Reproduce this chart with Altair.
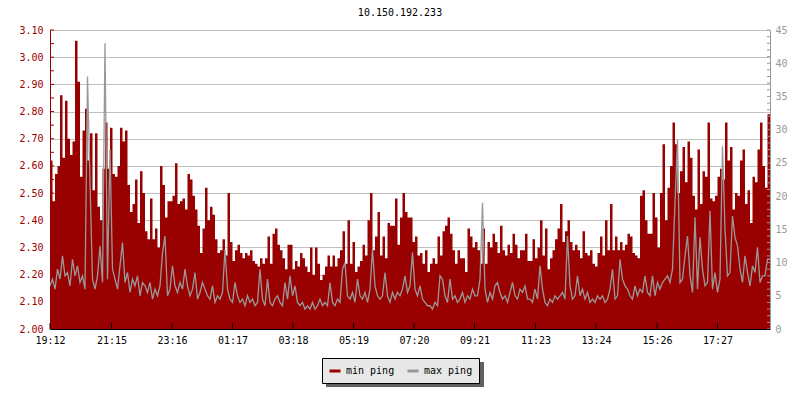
import altair as alt
import pandas as pd

FONT = "DejaVu Sans Mono"
RED = "#990000"
GREY = "#999999"

# min ping (ms, left axis), one value per 5 minutes, in 4-hour blocks
MIN_PING_1 = [2.62, 2.47, 2.57, 2.60, 2.86, 2.63, 2.84, 2.70, 2.64, 2.69,
              3.06, 2.91, 2.56, 2.73, 2.81, 2.62, 2.72, 2.51, 2.72, 2.45,
              2.40, 2.59, 2.76, 2.59, 2.74, 2.57, 2.56, 2.60, 2.74, 2.69,
              2.73, 2.53, 2.43, 2.46, 2.55, 2.39, 2.58, 2.50, 2.36, 2.33,
              2.48, 2.33, 2.37, 2.30, 2.60, 2.53, 2.41, 2.47]
MIN_PING_2 = [2.47, 2.49, 2.61, 2.46, 2.47, 2.48, 2.44, 2.57, 2.55, 2.49,
              2.44, 2.38, 2.28, 2.37, 2.52, 2.40, 2.45, 2.42, 2.33, 2.28,
              2.29, 2.33, 2.27, 2.50, 2.32, 2.25, 2.29, 2.31, 2.28, 2.26,
              2.28, 2.27, 2.29, 2.25, 2.24, 2.23, 2.26, 2.24, 2.26, 2.34,
              2.24, 2.35, 2.37, 2.31, 2.29, 2.26, 2.22, 2.31]
MIN_PING_3 = [2.31, 2.22, 2.25, 2.23, 2.28, 2.26, 2.23, 2.21, 2.30, 2.20,
              2.30, 2.24, 2.18, 2.20, 2.23, 2.27, 2.23, 2.27, 2.23, 2.26,
              2.29, 2.36, 2.24, 2.40, 2.24, 2.32, 2.21, 2.23, 2.25, 2.31,
              2.27, 2.40, 2.50, 2.29, 2.34, 2.43, 2.27, 2.34, 2.26, 2.39,
              2.38, 2.38, 2.48, 2.31, 2.41, 2.50, 2.43, 2.41]
MIN_PING_4 = [2.41, 2.32, 2.34, 2.27, 2.28, 2.24, 2.29, 2.21, 2.24, 2.26,
              2.24, 2.34, 2.27, 2.36, 2.38, 2.41, 2.35, 2.29, 2.24, 2.29,
              2.26, 2.26, 2.21, 2.37, 2.34, 2.30, 2.32, 2.29, 2.24, 2.37,
              2.24, 2.32, 2.30, 2.35, 2.32, 2.28, 2.38, 2.29, 2.27, 2.31,
              2.28, 2.35, 2.31, 2.26, 2.29, 2.29, 2.35, 2.25]
MIN_PING_5 = [2.25, 2.33, 2.26, 2.30, 2.40, 2.27, 2.37, 2.22, 2.26, 2.29,
              2.33, 2.37, 2.46, 2.32, 2.36, 2.40, 2.32, 2.29, 2.31, 2.29,
              2.26, 2.36, 2.28, 2.27, 2.29, 2.24, 2.23, 2.28, 2.34, 2.27,
              2.40, 2.29, 2.46, 2.29, 2.34, 2.29, 2.32, 2.29, 2.31, 2.35,
              2.34, 2.28, 2.27, 2.26, 2.49, 2.51, 2.40, 2.35]
MIN_PING_6 = [2.35, 2.50, 2.41, 2.30, 2.50, 2.68, 2.40, 2.52, 2.60, 2.76,
              2.68, 2.50, 2.58, 2.67, 2.54, 2.69, 2.63, 2.49, 2.44, 2.66,
              2.46, 2.58, 2.56, 2.76, 2.48, 2.47, 2.49, 2.56, 2.59, 2.55,
              2.76, 2.62, 2.67, 2.44, 2.50, 2.49, 2.62, 2.66, 2.46, 2.51,
              2.39, 2.56, 2.54, 2.66, 2.76, 2.60, 2.52, 2.79]

# max ping (ms, right axis)
MAX_PING_1 = [6.5, 7.5, 6.0, 9.0, 7.5, 11.0, 8.0, 8.5, 6.5, 10.5,
              8.0, 9.5, 7.0, 8.0, 6.0, 38.0, 22.0, 7.5, 6.0, 8.0,
              12.5, 7.0, 43.0, 7.5, 27.0, 9.0, 7.5, 6.0, 9.5, 13.0,
              7.0, 8.5, 5.5, 7.5, 6.5, 8.0, 5.0, 7.0, 6.5, 5.5,
              7.0, 4.5, 6.0, 5.0, 6.5, 11.5, 14.0, 5.0]
MAX_PING_2 = [6.0, 9.5, 6.5, 5.5, 7.0, 6.0, 9.0, 6.5, 5.0, 6.0,
              8.5, 4.5, 5.5, 7.0, 6.0, 5.0, 4.5, 6.5, 4.0, 5.0,
              4.5, 5.5, 12.0, 6.0, 4.5, 4.0, 7.0, 5.0, 4.0, 4.5,
              3.5, 5.0, 4.0, 4.5, 3.5, 4.0, 9.0, 4.5, 3.5, 7.5,
              4.0, 3.5, 4.5, 5.0, 4.0, 3.5, 7.0, 4.5]
MAX_PING_3 = [8.0, 5.0, 6.5, 4.0, 3.5, 4.0, 3.0, 3.5, 3.0, 4.0,
              3.0, 3.5, 4.5, 3.5, 4.0, 3.5, 7.0, 4.0, 3.5, 4.5,
              4.0, 9.0, 10.0, 5.0, 4.5, 5.5, 4.0, 7.5, 5.0, 4.5,
              5.5, 4.0, 6.0, 12.0, 6.5, 5.0, 4.5, 5.0, 8.5, 5.0,
              4.0, 5.5, 4.5, 5.5, 5.0, 6.0, 8.0, 5.5]
MAX_PING_4 = [6.5, 11.5, 6.0, 5.0, 6.5, 4.5, 4.0, 3.5, 3.5, 3.0,
              4.0, 3.5, 8.0, 7.5, 5.0, 4.0, 7.5, 4.5, 5.0, 4.0,
              4.5, 5.5, 4.0, 5.0, 4.5, 6.0, 5.0, 5.0, 7.5, 19.0,
              6.0, 4.0, 5.5, 4.5, 6.5, 7.0, 5.5, 4.5, 5.0, 4.0,
              5.5, 7.0, 5.0, 4.5, 6.0, 5.5, 6.5, 4.5]
MAX_PING_5 = [4.5, 4.0, 6.0, 4.5, 9.5, 6.0, 4.0, 3.5, 4.5, 4.0,
              5.0, 4.5, 5.0, 5.5, 4.5, 14.0, 6.5, 4.5, 5.0, 8.0,
              5.0, 6.0, 4.5, 5.5, 4.0, 4.5, 4.0, 5.0, 4.5, 5.0,
              4.0, 4.5, 6.0, 9.0, 4.5, 5.0, 10.5, 7.5, 6.5, 6.0,
              5.0, 4.5, 6.5, 5.0, 6.0, 5.5, 8.0, 5.5]
MAX_PING_6 = [5.0, 8.0, 5.0, 7.0, 6.0, 7.0, 7.5, 8.0, 7.0, 9.0,
              19.0, 28.5, 7.0, 7.5, 11.0, 14.0, 8.0, 5.5, 16.8, 6.0,
              13.8, 9.0, 6.5, 7.0, 17.8, 6.0, 8.5, 5.5, 7.5, 27.5,
              15.0, 8.0, 8.5, 17.0, 13.8, 12.5, 9.0, 7.0, 11.0, 8.5,
              6.5, 9.5, 8.5, 12.3, 7.0, 8.0, 8.0, 10.5]

MIN_PING = MIN_PING_1 + MIN_PING_2 + MIN_PING_3 + MIN_PING_4 + MIN_PING_5 + MIN_PING_6
MAX_PING = MAX_PING_1 + MAX_PING_2 + MAX_PING_3 + MAX_PING_4 + MAX_PING_5 + MAX_PING_6

STEP_MIN = 5
X_TICK_LABELS = ["19:12", "21:15", "23:16", "01:17", "03:18", "05:19",
                 "07:20", "09:21", "11:23", "13:24", "15:26", "17:27"]
X_TICK_MINUTES = [0, 123, 244, 365, 486, 607, 728, 849, 971, 1092, 1214, 1335]
LEFT_LABELS = [2.0, 2.1, 2.2, 2.3, 2.4, 2.5, 2.6, 2.7, 2.8, 2.9, 3.0, 3.1]
LEFT_MINOR = [round(2.0 + 0.05 * i, 2) for i in range(23)]
RIGHT_LABELS = [0, 5, 10, 15, 20, 25, 30, 35, 40, 45]
RIGHT_MINOR = list(range(0, 46))
SERIES = ["min ping", "max ping"]

n = len(MIN_PING)
times = [i * STEP_MIN for i in range(n)] + [n * STEP_MIN]
df = pd.DataFrame({
    "t": times,
    "minp": MIN_PING + [MIN_PING[-1]],
    "maxp": MAX_PING + [MAX_PING[-1]],
    "series": ["max ping"] * (n + 1),
})

W, H = 720, 299

label_expr = ("[" + ",".join("'%s'" % s for s in X_TICK_LABELS) + "][indexof(["
              + ",".join(str(m) for m in X_TICK_MINUTES) + "], datum.value)]")

x_enc = alt.X("t:Q",
              scale=alt.Scale(domain=[0, 1440], nice=False, zero=False),
              axis=alt.Axis(values=X_TICK_MINUTES, labelExpr=label_expr, title=None,
                            grid=False, ticks=False, tickSize=0, domainColor="black",
                            labelColor="black", labelFont=FONT, labelFontSize=10,
                            labelPadding=6, labelFlush=False, labelOverlap=False,
                            zindex=1))

left_scale = alt.Scale(domain=[2.0, 3.1], nice=False, zero=False)
right_scale = alt.Scale(domain=[0, 45], nice=False, zero=False)

area = alt.Chart(df).mark_area(color=RED, interpolate="step-after", clip=True).encode(
    x=x_enc,
    y=alt.Y("minp:Q", scale=left_scale,
            axis=alt.Axis(orient="left", values=LEFT_LABELS, format=".2f", title=None,
                          grid=True, gridColor="#c0c0c0", gridWidth=1, ticks=False,
                          tickSize=0, domainColor=RED, labelColor=RED, labelFont=FONT,
                          labelFontSize=10, labelPadding=7, zindex=0)),
    y2=alt.datum(2.0),
)

line = alt.Chart(df).mark_line(interpolate="linear", strokeWidth=1.3, clip=True).encode(
    x=x_enc,
    y=alt.Y("maxp:Q", scale=right_scale,
            axis=alt.Axis(orient="right", values=RIGHT_LABELS, title=None, grid=False,
                          ticks=False, tickSize=0, domainColor=GREY, labelColor=GREY,
                          labelFont=FONT, labelFontSize=10, labelPadding=5, zindex=1)),
    color=alt.Color("series:N",
                    scale=alt.Scale(domain=SERIES, range=[RED, GREY]),
                    legend=alt.Legend(orient="none", legendX=272, legendY=328,
                                      direction="horizontal", title=None,
                                      symbolType="stroke", symbolStrokeWidth=3,
                                      symbolSize=121, labelFont=FONT, labelFontSize=10,
                                      labelColor="black", fillColor="#e8e8e8",
                                      strokeColor="black", padding=6, columnPadding=6,
                                      labelOffset=4)),
)

xticks = alt.Chart(pd.DataFrame({"t": X_TICK_MINUTES})).mark_rule(color="black").encode(
    x=x_enc, y=alt.value(H - 6), y2=alt.value(H)
)

lticks = alt.Chart(pd.DataFrame({"v": LEFT_MINOR})).mark_rule(color=RED).encode(
    y=alt.Y("v:Q", scale=left_scale, axis=None), x=alt.value(0), x2=alt.value(4)
)

rticks = alt.Chart(pd.DataFrame({"v": RIGHT_MINOR})).mark_rule(color=GREY).encode(
    y=alt.Y("v:Q", scale=right_scale, axis=None), x=alt.value(W - 3), x2=alt.value(W)
)

shadow = alt.Chart(alt.Data(values=[{"a": 1}])).mark_rect(color="#606060").encode(
    x=alt.value(276), x2=alt.value(434), y=alt.value(332), y2=alt.value(357)
)

chart = alt.layer(area, line, xticks, lticks, rticks, shadow).resolve_scale(
    y="independent"
).properties(
    width=W, height=H,
    title=alt.Title("10.150.192.233", font=FONT, fontSize=10, fontWeight="normal",
                    color="black", anchor="middle", dx=-10, offset=7),
    autosize=alt.AutoSizeParams(type="none"),
    padding={"left": 42, "top": 22, "right": 22, "bottom": 62},
).configure_view(stroke=None).configure(background="white")

chart.save("out.html", embed_options={"renderer": "svg", "actions": False})
